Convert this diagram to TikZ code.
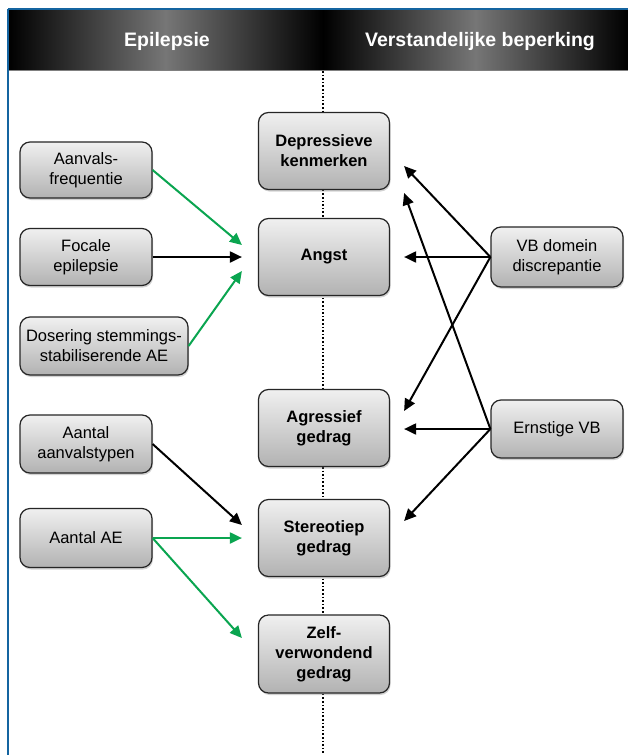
\documentclass[tikz,border=0pt]{standalone}
\usepackage{fontspec}
\setmainfont{Liberation Sans}
\usetikzlibrary{arrows.meta,shadows,calc}
\definecolor{grn}{RGB}{10,165,80}
\definecolor{frameblue}{RGB}{20,100,160}
\definecolor{boxtop}{RGB}{240,240,240}
\definecolor{boxbot}{RGB}{178,178,178}
\definecolor{hdrgray}{RGB}{118,118,118}
\tikzset{
  gbox/.style={draw=black!85, line width=1.2pt, rounded corners=10pt,
    top color=boxtop, bottom color=boxbot, align=center,
    drop shadow={shadow xshift=1pt, shadow yshift=-2pt, opacity=0.35},
    inner sep=2pt},
  cbox/.style={gbox, minimum width=131pt, minimum height=77pt,
    font=\fontsize{16.5}{20}\selectfont\bfseries},
  sbox/.style={gbox, minimum width=132pt, minimum height=58pt,
    font=\fontsize{16.5}{20}\selectfont},
  arr/.style={line width=2pt, -{Triangle[length=12pt,width=11pt]}},
  barr/.style={arr, draw=black},
  garr/.style={arr, draw=grn},
  hdr/.style={text=white, font=\fontsize{19.5}{22}\selectfont\bfseries}
}
\begin{document}
\begin{tikzpicture}[x=1pt,y=-1pt]
\useasboundingbox (0,0) rectangle (628,755);
\fill[white] (0,0) rectangle (628,755);
% header
\shade[left color=black, right color=black, middle color=hdrgray] (8,10) rectangle (323,70);
\shade[left color=black, right color=black, middle color=hdrgray] (323,10) rectangle (628,70);
\draw[gray, line width=1pt] (8,70) -- (628,70);
\draw[frameblue, line width=2pt] (8,9) -- (628,9);
\draw[frameblue, line width=2pt] (8,9) -- (8,755);
\node[hdr] (h1) at (167,41) {Epilepsie};
\node[hdr] (h2) at (480,41) {Verstandelijke beperking};
% centre dotted line
\coordinate (ltop) at (323,71);
\coordinate (lbot) at (323,755);
\draw[black, line width=1.6pt, dotted] (ltop) -- (lbot);
% centre boxes
\node[cbox] (dep) at (324,151) {Depressieve\\kenmerken};
\node[cbox] (angst) at (324,257) {Angst};
\node[cbox] (agr) at (324,428) {Agressief\\gedrag};
\node[cbox] (ster) at (324,538) {Stereotiep\\gedrag};
\node[cbox, minimum height=78pt] (zelf) at (324,654) {Zelf-\\verwondend\\gedrag};
% left boxes
\node[sbox, minimum height=56pt] (af) at (86,170) {Aanvals-\\frequentie};
\node[sbox, minimum height=57pt] (fe) at (86,257) {Focale\\epilepsie};
\node[sbox, minimum width=168pt] (dos) at (104,346) {Dosering stemmings-\\stabiliserende AE};
\node[sbox] (at) at (86,444) {Aantal\\aanvalstypen};
\node[sbox, minimum height=59pt] (ae) at (86,538) {Aantal AE};
% right boxes
\node[sbox, minimum height=60pt] (vb) at (557,257) {VB domein\\discrepantie};
\node[sbox] (ev) at (557,429) {Ernstige VB};
% arrow end points
\coordinate (angstA) at ($(angst.west)+(-16,-12)$);
\coordinate (angstB) at ($(angst.west)+(-16,0)$);
\coordinate (angstC) at ($(angst.west)+(-16,14)$);
\coordinate (sterA) at ($(ster.west)+(-16,-13)$);
\coordinate (sterB) at ($(ster.west)+(-16,0)$);
\coordinate (zelfA) at ($(zelf.west)+(-16,-16)$);
\coordinate (depR1) at ($(dep.east)+(14,15)$);
\coordinate (depR2) at ($(dep.east)+(14,42)$);
\coordinate (angstR) at ($(angst.east)+(14,0)$);
\coordinate (agrR1) at ($(agr.east)+(14,-17)$);
\coordinate (agrR2) at ($(agr.east)+(14,1)$);
\coordinate (sterR) at ($(ster.east)+(14,-17)$);
% left arrows
\draw[garr] (af.east) -- (angstA);
\draw[barr] (fe.east) -- (angstB);
\draw[garr] (dos.east) -- (angstC);
\draw[barr] (at.east) -- (sterA);
\draw[garr] (ae.east) -- (sterB);
\draw[garr] (ae.east) -- (zelfA);
% right arrows
\draw[barr] (vb.west) -- (depR1);
\draw[barr] (vb.west) -- (angstR);
\draw[barr] (vb.west) -- (agrR1);
\draw[barr] (ev.west) -- (depR2);
\draw[barr] (ev.west) -- (agrR2);
\draw[barr] (ev.west) -- (sterR);
\end{tikzpicture}
\end{document}
